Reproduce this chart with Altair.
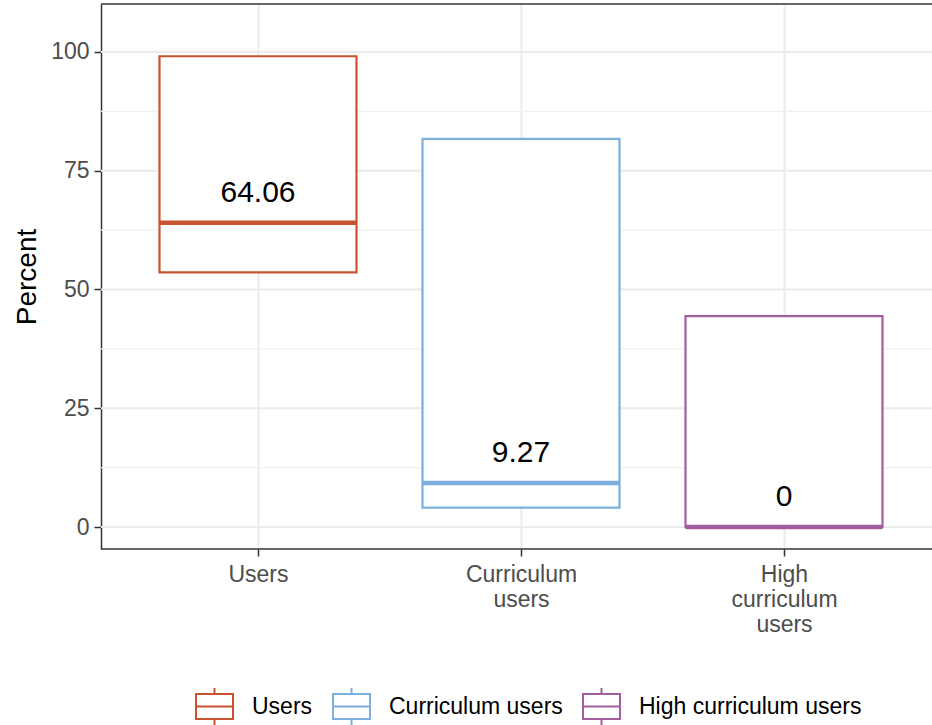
import altair as alt
import pandas as pd

# Crossbar summary per user group (percent)
groups = ["Users", "Curriculum users", "High curriculum users"]
medians = [64.06, 9.27, 0]
lowers = [53.6, 4.1, 0]
uppers = [99.1, 81.7, 44.4]
colors = ["#C9532E", "#7BAFDE", "#A25E9E"]

major_breaks = [0, 25, 50, 75, 100]
minor_breaks = [12.5, 37.5, 62.5, 87.5]

df = pd.DataFrame({"group": groups, "median": medians, "lower": lowers, "upper": uppers})
major_df = pd.DataFrame({"y": major_breaks})
minor_df = pd.DataFrame({"y": minor_breaks})
edge_df = pd.DataFrame({"edge": [0]})

W, H = 831, 545
BOX_W = 197
FONT = "Liberation Sans"
GREY30 = "#4D4D4D"
GREY20 = "#333333"
GRID = "#EBEBEB"

x_scale = alt.Scale(type="point", domain=groups, range=[157, 683], padding=0)
y_scale = alt.Scale(domain=[-4.63, 110.1], nice=False, zero=False)
col_scale = alt.Scale(domain=groups, range=colors)

x_axis = alt.Axis(
    labelExpr="split(datum.label, ' ')",
    labelAngle=0,
    labelFontSize=23,
    labelColor=GREY30,
    labelLineHeight=25,
    labelPadding=7,
    tickSize=7,
    tickColor=GREY20,
    tickWidth=1.5,
    domain=False,
    grid=True,
    gridColor=GRID,
    gridWidth=2,
)
y_axis = alt.Axis(
    values=major_breaks,
    labelFontSize=23,
    labelColor=GREY30,
    labelPadding=5,
    tickSize=7,
    tickColor=GREY20,
    tickWidth=1.5,
    domainColor=GREY20,
    domainWidth=1.5,
    grid=False,
    title="Percent",
    titleFontSize=28,
    titleFontWeight="normal",
    titleColor="black",
    titleBaseline="alphabetic",
    titleAlign="center",
    titleAngle=270,
    titleX=-66,
    titleY=H / 2,
)

X = alt.X("group:N", scale=x_scale, sort=groups, axis=x_axis, title=None)

# Panel grid: minor lines lighter and thinner than the major ones
minor_grid = alt.Chart(minor_df).mark_rule(color="#F0F0F0", strokeWidth=1.2).encode(
    y=alt.Y("y:Q", scale=y_scale, axis=y_axis)
)
major_grid = alt.Chart(major_df).mark_rule(color=GRID, strokeWidth=2).encode(
    y=alt.Y("y:Q", scale=y_scale, axis=y_axis)
)

legend_path = "M-1,-0.68H1V0.68H-1Z M-1,0H1 M0,-0.68V-1 M0,0.68V1"

boxes = alt.Chart(df).mark_bar(fill="white", strokeWidth=2.2, width=BOX_W).encode(
    x=X,
    y=alt.Y("lower:Q", scale=y_scale, axis=y_axis),
    y2="upper:Q",
    stroke=alt.Stroke(
        "group:N",
        scale=col_scale,
        sort=groups,
        legend=alt.Legend(
            title=None,
            orient="none",
            legendX=94,
            legendY=683,
            direction="horizontal",
            symbolType=legend_path,
            symbolSize=1369,
            symbolStrokeWidth=2,
            symbolFillColor="white",
            labelFontSize=23,
            labelColor="black",
            labelLimit=0,
            labelOffset=18,
            columnPadding=16,
            padding=0,
        ),
    ),
)

median_line = alt.Chart(df).mark_tick(thickness=4.5, size=BOX_W, opacity=1).encode(
    x=X,
    y=alt.Y("median:Q", scale=y_scale, axis=y_axis),
    color=alt.Color("group:N", scale=col_scale, legend=None),
)

median_text = alt.Chart(df).mark_text(
    dy=-21, fontSize=30, color="black", baseline="alphabetic", font=FONT
).encode(
    x=X,
    y=alt.Y("median:Q", scale=y_scale, axis=y_axis),
    text=alt.Text("median:Q", format="~g"),
)

top_edge = alt.Chart(edge_df).mark_rule(color=GREY20, strokeWidth=1.5).encode(
    y=alt.value(0), x=alt.value(0), x2=alt.value(W)
)
bottom_edge = alt.Chart(edge_df).mark_rule(color=GREY20, strokeWidth=1.5).encode(
    y=alt.value(H), x=alt.value(0), x2=alt.value(W)
)

chart = (
    alt.layer(minor_grid, major_grid, boxes, median_line, median_text, top_edge, bottom_edge)
    .resolve_scale(color="independent", stroke="independent")
    .properties(
        width=W,
        height=H,
        autosize=alt.AutoSizeParams(type="none"),
        padding={"left": 101, "top": 4, "right": 0, "bottom": 176},
        background="white",
    )
    .configure(font=FONT)
    .configure_view(stroke=None)
)

chart.save("out.html", embed_options={"renderer": "svg", "actions": False})
